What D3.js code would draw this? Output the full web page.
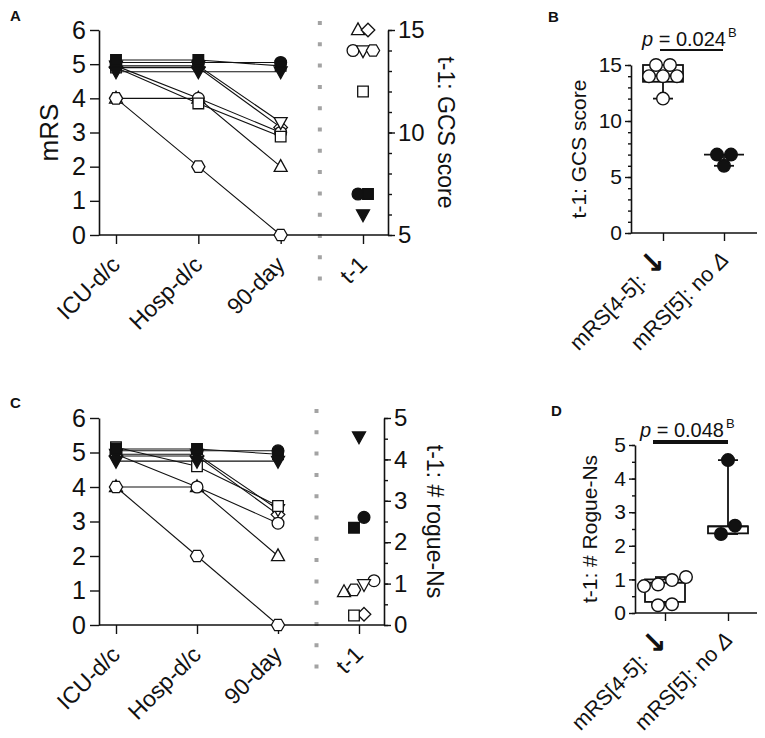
<!DOCTYPE html>
<html>
<head>
<meta charset="utf-8">
<script src="https://cdn.jsdelivr.net/npm/d3@7"></script>
<style>
  body { margin: 0; background: #fff; }
  svg  { display: block; font-family: "Liberation Sans", Arial, sans-serif; }
</style>
</head>
<body>
<svg id="fig" width="765" height="738"></svg>
<script>
"use strict";

// ── data ─────────────────────────────────────────────────────────────────────
const timepoints = ["ICU-d/c", "Hosp-d/c", "90-day", "t-1"];
const groups     = ["mRS[4-5]:", "mRS[5]: no"];

// one entry per patient
const shapes = ["triangle", "diamond", "circle", "triDown", "hexagon", "square", "circle", "square", "triDown"];
const filled = [false, false, false, false, false, false, true, true, true];

// mRS at ICU-d/c, Hosp-d/c, 90-day (as plotted in panel A and C)
const mrsA = [
  [4.0, 4.0, 2.0], [4.9, 4.9, 3.15], [4.95, 4.0, 3.0], [4.95, 4.95, 3.3], [4.0, 2.0, 0.0],
  [4.9, 3.85, 2.88], [5.05, 5.05, 5.05], [5.12, 5.12, 4.95], [4.78, 4.78, 4.78],
];
const mrsC = [
  [4.0, 4.0, 2.0], [4.9, 4.9, 3.2], [4.95, 4.0, 2.95], [4.95, 4.95, 3.35], [4.0, 2.0, 0.0],
  [5.15, 4.6, 3.45], [5.05, 5.05, 5.05], [5.1, 5.1, 4.95], [4.75, 4.75, 4.75],
];

const gcsT1   = [15, 15, 14, 14, 14, 12, 7, 7, 6];
const rogueT1 = [0.8, 0.26, 1.07, 0.98, 0.85, 0.23, 2.6, 2.35, 4.55];

// box plots (per group)
const gcsLo   = [12, 6],     gcsQ1   = [13.5, 7],  gcsMed   = [14, 7],    gcsQ3   = [15, 7],    gcsHi   = [15, 7];
const rogueLo = [0.23, 2.35], rogueQ1 = [0.33, 2.37], rogueMed = [0.9, 2.58], rogueQ3 = [1.0, 2.58], rogueHi = [1.07, 4.55];

const pValues = ["0.024", "0.048"];

// ── helpers ──────────────────────────────────────────────────────────────────
const svg = d3.select("#fig");
const INK = "#111";

const SHAPES = {
  circle:   { draw(c, r) { c.moveTo(r, 0); c.arc(0, 0, r, 0, 2 * Math.PI); } },
  square:   { draw(c, r) { const s = r * 0.9; c.rect(-s, -s, 2 * s, 2 * s); } },
  triangle: { draw(c, r) { c.moveTo(0, -r * 1.2); c.lineTo(r * 1.1, r * 0.8); c.lineTo(-r * 1.1, r * 0.8); c.closePath(); } },
  triDown:  { draw(c, r) { c.moveTo(0, r * 1.2); c.lineTo(r * 1.1, -r * 0.8); c.lineTo(-r * 1.1, -r * 0.8); c.closePath(); } },
  diamond:  { draw(c, r) { const s = r * 1.15; c.moveTo(0, -s); c.lineTo(s, 0); c.lineTo(0, s); c.lineTo(-s, 0); c.closePath(); } },
  hexagon:  { draw(c, r) {
    const s = r * 1.12;
    d3.range(6).forEach(i => {
      const a = i * Math.PI / 3;
      if (i === 0) c.moveTo(s * Math.cos(a), s * Math.sin(a));
      else c.lineTo(s * Math.cos(a), s * Math.sin(a));
    });
    c.closePath();
  } },
};

function symbolPath(shape, r) {
  return d3.symbol().type(SHAPES[shape]).size(r)();
}

// spread points sharing (nearly) the same height symmetrically around the centre
function swarmOffsets(idxs, vals, y, spacing, gap) {
  const order = idxs.slice().sort((a, b) => d3.ascending(vals[a], vals[b]) || a - b);
  const off = {};
  let cluster = [];
  const flush = () => {
    cluster.forEach((k, j) => { off[k] = (j - (cluster.length - 1) / 2) * spacing; });
    cluster = [];
  };
  order.forEach(k => {
    const last = cluster[cluster.length - 1];
    if (cluster.length && Math.abs(y(vals[k]) - y(vals[last])) >= gap) flush();
    cluster.push(k);
  });
  flush();
  return off;
}

function styleAxis(g, fs) {
  g.selectAll(".domain").attr("stroke", INK).attr("stroke-width", 1.6);
  g.selectAll(".tick line").attr("stroke", INK).attr("stroke-width", 1.4);
  g.selectAll("text").attr("fill", INK).attr("font-size", fs).attr("font-family", null);
}

function panelLabel(txt, x, y) {
  svg.append("text").attr("x", x).attr("y", y)
    .attr("font-size", 15).attr("font-weight", "bold").attr("fill", INK).text(txt);
}

// ── time-course panels (A, C) ───────────────────────────────────────────────
function drawTimecourse(o) {
  const g = svg.append("g");
  const x  = d3.scalePoint().domain(timepoints).range([o.xFirst, o.xLast]);
  const y  = d3.scaleLinear().domain([0, 6]).range([o.bottom, o.top]);
  const yR = d3.scaleLinear().domain(o.rDomain).range([o.bottom, o.top]);

  // dotted separator between 90-day and t-1
  const sepX = (x(timepoints[2]) + x(timepoints[3])) / 2 - 2;
  g.append("line")
    .attr("x1", sepX).attr("x2", sepX)
    .attr("y1", o.top - 9).attr("y2", o.bottom + 50)
    .attr("stroke", "#a3a3a3").attr("stroke-width", 4)
    .attr("stroke-dasharray", "4 17.3");

  // left axis
  g.append("g").attr("transform", `translate(${o.left},0)`)
    .call(d3.axisLeft(y).tickValues(d3.range(0, 7)).tickSize(9).tickSizeOuter(0).tickPadding(4).tickFormat(d3.format("d")))
    .call(ax => styleAxis(ax, 25));

  // bottom axis
  g.append("line")
    .attr("x1", o.left).attr("x2", o.right).attr("y1", o.bottom).attr("y2", o.bottom)
    .attr("stroke", INK).attr("stroke-width", 1.6);
  g.append("g").attr("transform", `translate(0,${o.bottom})`)
    .call(d3.axisBottom(x).tickSize(9).tickSizeOuter(0))
    .call(ax => {
      ax.select(".domain").remove();
      styleAxis(ax, 23);
      ax.selectAll("text")
        .attr("x", 0).attr("y", 0).attr("dy", 0)
        .attr("text-anchor", "end")
        .attr("transform", "translate(5,31) rotate(-45)");
    });

  // right axis
  g.append("g").attr("transform", `translate(${o.right},0)`)
    .call(d3.axisRight(yR).tickValues(o.rMinor).tickSize(4).tickSizeOuter(0).tickFormat(""))
    .call(ax => styleAxis(ax, 23));
  g.append("g").attr("transform", `translate(${o.right},0)`)
    .call(d3.axisRight(yR).tickValues(o.rMajor).tickSize(7).tickSizeOuter(0).tickPadding(3).tickFormat(d3.format("d")))
    .call(ax => { ax.select(".domain").remove(); styleAxis(ax, 24); });

  // axis titles
  if (o.lTitle) {
    g.append("text")
      .attr("transform", `translate(${o.lTitleX},${(o.top + o.bottom) / 2}) rotate(-90)`)
      .attr("text-anchor", "middle").attr("dy", "0.35em")
      .attr("font-size", 26).attr("fill", INK).text(o.lTitle);
  }
  g.append("text")
    .attr("transform", `translate(${o.rTitleX},${(o.top + o.bottom) / 2}) rotate(90)`)
    .attr("text-anchor", "middle").attr("dy", "0.35em")
    .attr("font-size", 23).attr("fill", INK).text(o.rTitle);

  // patient lines
  const line = d3.line().x((d, i) => x(timepoints[i])).y(d => y(d));
  g.append("g").selectAll("path").data(o.mrs).join("path")
    .attr("d", line)
    .attr("fill", "none").attr("stroke", INK).attr("stroke-width", 1.1);

  // patient symbols at the three mRS time points
  const r = 5.9;
  o.mrs.forEach((row, k) => {
    row.forEach((v, i) => {
      g.append("path")
        .attr("d", symbolPath(shapes[k], r))
        .attr("transform", `translate(${x(timepoints[i])},${y(v)})`)
        .attr("fill", filled[k] ? INK : "#fff")
        .attr("stroke", INK).attr("stroke-width", 1.3);
    });
  });

  // t-1 column on the right axis scale
  const idxs = d3.range(o.t1.length);
  const off = swarmOffsets(idxs, o.t1, yR, 10, 11);
  idxs.forEach(k => {
    g.append("path")
      .attr("d", symbolPath(shapes[k], r))
      .attr("transform", `translate(${x(timepoints[3]) + off[k]},${yR(o.t1[k])})`)
      .attr("fill", filled[k] ? INK : "#fff")
      .attr("stroke", INK).attr("stroke-width", 1.3);
  });
}

// ── box-plot panels (B, D) ──────────────────────────────────────────────────
function drawBox(o) {
  const g = svg.append("g");
  const x = d3.scalePoint().domain(groups).range([o.xFirst, o.xLast]);
  const y = d3.scaleLinear().domain(o.domain).range([o.bottom, o.top]);

  g.append("g").attr("transform", `translate(${o.left},0)`)
    .call(d3.axisLeft(y).tickValues(o.minor).tickSize(3).tickSizeOuter(0).tickFormat(""))
    .call(ax => styleAxis(ax, 21));
  g.append("g").attr("transform", `translate(${o.left},0)`)
    .call(d3.axisLeft(y).tickValues(o.major).tickSize(6).tickSizeOuter(0).tickPadding(3).tickFormat(d3.format("d")))
    .call(ax => { ax.select(".domain").remove(); styleAxis(ax, 21); });

  g.append("line")
    .attr("x1", o.left).attr("x2", o.right).attr("y1", o.bottom).attr("y2", o.bottom)
    .attr("stroke", INK).attr("stroke-width", 1.6);
  g.append("g").attr("transform", `translate(0,${o.bottom})`)
    .call(d3.axisBottom(x).tickSize(8).tickSizeOuter(0).tickFormat(""))
    .call(ax => { ax.select(".domain").remove(); styleAxis(ax, 20); });

  // rotated group labels
  g.selectAll("text.grp").data(groups).join("text")
    .attr("class", "grp")
    .attr("text-anchor", "end")
    .attr("transform", d => `translate(${x(d) + 6},${o.bottom + 28}) rotate(-45)`)
    .attr("font-size", 21.5).attr("fill", INK)
    .each(function (d, i) {
      const t = d3.select(this);
      t.append("tspan").text(d + " ");
      if (i === 0) {
        t.append("tspan")
          .attr("font-family", "DejaVu Sans").attr("font-weight", "bold")
          .attr("font-size", 30).text("\u2193");
      } else {
        t.append("tspan").attr("font-style", "italic").text("\u0394");
      }
    });

  g.append("text")
    .attr("transform", `translate(${o.titleX},${(o.top + o.bottom) / 2}) rotate(-90)`)
    .attr("text-anchor", "middle").attr("dy", "0.35em")
    .attr("font-size", 21).attr("fill", INK).text(o.title);

  // boxes and whiskers
  const bw = 40, cw = 20;
  groups.forEach((grp, i) => {
    const cx = x(grp);
    const bx = g.append("g").attr("stroke", INK).attr("stroke-width", 1.8).attr("fill", "none");
    bx.append("rect")
      .attr("x", cx - bw / 2).attr("width", bw)
      .attr("y", y(o.q3[i])).attr("height", y(o.q1[i]) - y(o.q3[i]))
      .attr("fill", "#fff");
    bx.append("line").attr("x1", cx - bw / 2).attr("x2", cx + bw / 2)
      .attr("y1", y(o.med[i])).attr("y2", y(o.med[i]));
    if (o.hi[i] > o.q3[i]) {
      bx.append("line").attr("x1", cx).attr("x2", cx).attr("y1", y(o.q3[i])).attr("y2", y(o.hi[i]));
      bx.append("line").attr("x1", cx - cw / 2).attr("x2", cx + cw / 2).attr("y1", y(o.hi[i])).attr("y2", y(o.hi[i]));
    }
    if (o.lo[i] < o.q1[i]) {
      bx.append("line").attr("x1", cx).attr("x2", cx).attr("y1", y(o.q1[i])).attr("y2", y(o.lo[i]));
      bx.append("line").attr("x1", cx - cw / 2).attr("x2", cx + cw / 2).attr("y1", y(o.lo[i])).attr("y2", y(o.lo[i]));
    }
  });

  // points
  groups.forEach((grp, gi) => {
    const idxs = d3.range(o.vals.length).filter(k => (filled[k] ? 1 : 0) === gi);
    const off = swarmOffsets(idxs, o.vals, y, 14, 11);
    idxs.forEach(k => {
      g.append("path")
        .attr("d", symbolPath("circle", 6.3))
        .attr("transform", `translate(${x(grp) + off[k]},${y(o.vals[k])})`)
        .attr("fill", filled[k] ? INK : "#fff")
        .attr("stroke", INK).attr("stroke-width", 1.4);
    });
  });

  // significance bar and p value
  g.append("line")
    .attr("x1", x(groups[0]) + o.barL).attr("x2", x(groups[1]) + o.barR)
    .attr("y1", o.barY).attr("y2", o.barY)
    .attr("stroke", INK).attr("stroke-width", o.barW);
  const pt = g.append("text").attr("x", o.pX).attr("y", o.pY)
    .attr("font-size", 20).attr("fill", INK);
  pt.append("tspan").attr("font-style", "italic").text("p");
  pt.append("tspan").text(" = " + o.p);
  pt.append("tspan").attr("font-size", 13).attr("dx", 2).attr("dy", -9).text("B");
}

// ── panels ───────────────────────────────────────────────────────────────────
panelLabel("A", 10, 21);
drawTimecourse({
  mrs: mrsA, t1: gcsT1,
  left: 99, right: 388, top: 30, bottom: 235, xFirst: 116, xLast: 363,
  rDomain: [5, 15], rMajor: [5, 10, 15], rMinor: d3.range(5, 16, 1),
  lTitle: "mRS", lTitleX: 49,
  rTitle: "t-1: GCS score", rTitleX: 446,
});

panelLabel("C", 10, 408);
drawTimecourse({
  mrs: mrsC, t1: rogueT1,
  left: 99, right: 384, top: 418, bottom: 625, xFirst: 116, xLast: 359,
  rDomain: [0, 5], rMajor: d3.range(0, 6), rMinor: d3.range(0, 5.01, 0.5),
  lTitle: null,
  rTitle: "t-1: # rogue-Ns", rTitleX: 435,
});

panelLabel("B", 548, 22);
drawBox({
  vals: gcsT1, lo: gcsLo, q1: gcsQ1, med: gcsMed, q3: gcsQ3, hi: gcsHi,
  left: 631, right: 757, top: 65, bottom: 233, xFirst: 663, xLast: 724,
  domain: [0, 15], major: [0, 5, 10, 15], minor: d3.range(0, 16, 1),
  title: "t-1: GCS score", titleX: 579,
  p: pValues[0], pX: 642, pY: 46, barY: 50, barL: -3, barR: -1, barW: 1.8,
});

panelLabel("D", 551, 416);
drawBox({
  vals: rogueT1, lo: rogueLo, q1: rogueQ1, med: rogueMed, q3: rogueQ3, hi: rogueHi,
  left: 635, right: 757, top: 445, bottom: 613, xFirst: 665, xLast: 728,
  domain: [0, 5], major: d3.range(0, 6), minor: d3.range(0, 5.01, 0.5),
  title: "t-1: # Rogue-Ns", titleX: 590,
  p: pValues[1], pX: 640, pY: 437, barY: 442, barL: -12, barR: 0, barW: 4,
});
</script>
</body>
</html>
